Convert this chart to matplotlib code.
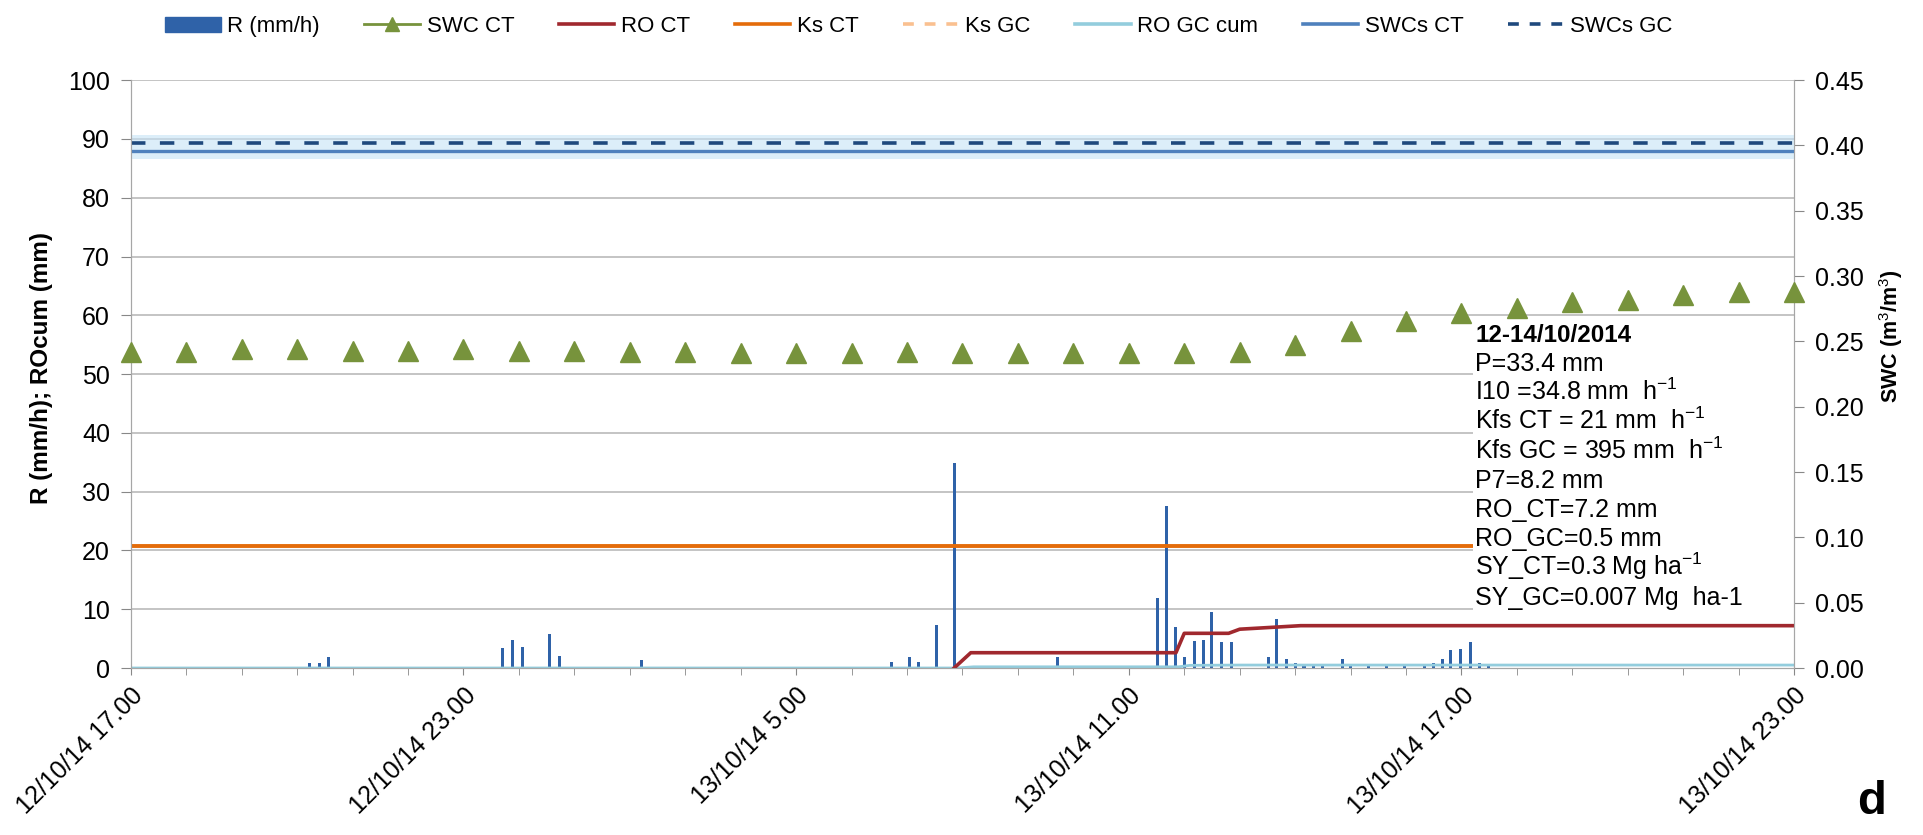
import numpy as np
import matplotlib
matplotlib.use('Agg')
import matplotlib.pyplot as plt
from matplotlib.lines import Line2D
from matplotlib.patches import Patch, Rectangle

plt.rcParams['font.family'] = ['Liberation Sans', 'DejaVu Sans']
plt.rcParams['mathtext.fontset'] = 'custom'
plt.rcParams['mathtext.rm'] = 'Liberation Sans'
plt.rcParams['mathtext.bf'] = 'Liberation Sans:bold'

# hours since 12/10/14 17.00
tick_hours = [0, 6, 12, 18, 24, 30]
tick_labels = ['12/10/14 17.00', '12/10/14 23.00', '13/10/14 5.00',
               '13/10/14 11.00', '13/10/14 17.00', '13/10/14 23.00']

# rainfall intensity (10 min steps), mm/h
rain_t = [3.23, 3.40, 3.57, 6.71, 6.89, 7.07, 7.55, 7.73, 9.21,
          13.72, 14.04, 14.20, 14.53, 14.86, 16.71,
          18.51, 18.68, 18.84, 19.00, 19.18, 19.34, 19.50, 19.67, 19.85,
          20.52, 20.67, 20.84, 21.00, 21.16, 21.33, 21.50, 21.85, 22.00,
          22.33, 22.65, 22.97, 23.33, 23.49, 23.65, 23.81, 23.98, 24.16,
          24.32, 24.48]
rain_v = [0.9, 0.9, 1.9, 3.4, 4.7, 3.5, 5.8, 2.0, 1.3,
          1.0, 1.9, 1.0, 7.3, 34.8, 1.9,
          11.9, 27.5, 7.0, 1.8, 4.6, 4.7, 9.6, 4.5, 4.5,
          1.8, 8.3, 1.6, 0.9, 0.75, 0.75, 0.6, 1.6, 0.75,
          0.75, 0.75, 0.5, 0.75, 0.9, 1.6, 3.1, 3.2, 4.4,
          0.9, 0.75]

# hourly soil water content CT (m3/m3)
swc_t = list(range(31))
swc_ct = [0.2421, 0.2421, 0.2439, 0.2439, 0.2430, 0.2430, 0.2439, 0.2430,
          0.2426, 0.2417, 0.2417, 0.2412, 0.2412, 0.2412, 0.2417, 0.2412,
          0.2412, 0.2412, 0.2412, 0.2412, 0.2417, 0.2475, 0.2579, 0.2660,
          0.2714, 0.2759, 0.2804, 0.2817, 0.2858, 0.2876, 0.2880]

# cumulative runoff (mm)
ro_ct_t = [14.85, 15.15, 18.85, 19.00, 19.80, 20.00, 21.10, 30.0]
ro_ct_v = [0.0, 2.6, 2.6, 5.9, 5.9, 6.6, 7.2, 7.2]
ro_gc_t = [0.0, 14.9, 15.2, 18.9, 19.1, 20.0, 30.0]
ro_gc_v = [0.0, 0.0, 0.2, 0.2, 0.45, 0.5, 0.5]

ks_ct = 20.7
ks_gc = 395.0
swcs_ct = 0.396
swcs_gc = 0.402
swcs_band = (0.390, 0.408)

note_title = '12-14/10/2014'
note_lines = ['P=33.4 mm',
              'I10 =34.8 mm  h$^{-1}$',
              'Kfs CT = 21 mm  h$^{-1}$',
              'Kfs GC = 395 mm  h$^{-1}$',
              'P7=8.2 mm',
              'RO_CT=7.2 mm',
              'RO_GC=0.5 mm',
              'SY_CT=0.3 Mg ha$^{-1}$',
              'SY_GC=0.007 Mg  ha-1']

c_rain = '#2F62A8'
c_swc = '#77933C'
c_ro_ct = '#A0282E'
c_ks_ct = '#E46C0A'
c_ks_gc = '#FAC090'
c_ro_gc = '#93CDDD'
c_swcs_ct = '#4F81BD'
c_swcs_gc = '#1F497D'
grid_c = '#BFBFBF'

fig = plt.figure(figsize=(19.23, 8.35), dpi=100)
ax = fig.add_axes([0.068, 0.20, 0.865, 0.704])
ax2 = ax.twinx()

ax.set_xlim(0, 30)
ax.set_ylim(0, 100)
ax2.set_ylim(0, 0.45)

for y in range(10, 101, 10):
    ax.axhline(y, color=grid_c, lw=1.3, zorder=0.5)

ax.bar(rain_t, rain_v, width=0.055, color=c_rain, zorder=2)
ax.plot([0, 30], [ks_ct, ks_ct], color=c_ks_ct, lw=2.8, zorder=2)
ax.plot([0, 30], [ks_gc, ks_gc], color=c_ks_gc, lw=2.6, ls=(0, (4, 4)), zorder=2)
ax.plot(ro_gc_t, ro_gc_v, color=c_ro_gc, lw=2.0, zorder=2.2)

# white box behind the event summary
ax.add_patch(Rectangle((24.2, 8.6), 5.8, 51.2, facecolor='white',
                       edgecolor='none', zorder=2.5))
ax.plot(ro_ct_t, ro_ct_v, color=c_ro_ct, lw=2.6, zorder=3)

ax2.axhspan(swcs_band[0], swcs_band[1], color='#C5E3F6', alpha=0.6, lw=0, zorder=1)
ax2.plot([0, 30], [swcs_ct, swcs_ct], color=c_swcs_ct, lw=2.4, zorder=2)
ax2.plot([0, 30], [swcs_gc, swcs_gc], color=c_swcs_gc, lw=2.6,
         ls=(0, (4, 4)), zorder=2)
ax2.plot(swc_t, swc_ct, ls='none', marker='^', ms=15, color=c_swc,
         clip_on=False, zorder=4)

# event summary, one text per line
ax.text(24.25, 55.5, note_title, fontsize=17.5, fontweight='bold',
        va='baseline', ha='left', zorder=5)
for i, line in enumerate(note_lines):
    ax.text(24.25, 55.5 - 4.97 * (i + 1), line, fontsize=18, va='baseline',
            ha='left', zorder=5)

ax.set_xticks(range(31), minor=True)
ax.set_xticks(tick_hours)
ax.set_xticklabels(tick_labels, rotation=45, ha='right', rotation_mode='anchor',
                   fontsize=18)
ax.tick_params(axis='x', which='both', length=5, color='#888888', pad=6)
ax.set_yticks(range(0, 101, 10))
ax.tick_params(axis='y', labelsize=18, length=7, color='#888888', pad=8)
ax2.set_yticks(np.arange(0, 0.451, 0.05))
ax2.set_yticklabels(['%.2f' % v for v in np.arange(0, 0.451, 0.05)])
ax2.tick_params(axis='y', labelsize=18, length=7, color='#888888', pad=8)

for a in (ax, ax2):
    for s in a.spines.values():
        s.set_color('#A6A6A6')
    a.spines['top'].set_visible(False)

ax.set_ylabel('R (mm/h); ROcum (mm)', fontsize=17.5, fontweight='bold')
ax.yaxis.set_label_coords(-0.047, 0.51)
ax2.set_ylabel('SWC (m$^3$/m$^3$)', fontsize=15.5, fontweight='bold')
ax2.yaxis.set_label_coords(1.05, 0.565)

handles = [Patch(color=c_rain),
           Line2D([], [], color=c_swc, marker='^', ms=10, lw=2),
           Line2D([], [], color=c_ro_ct, lw=2.6),
           Line2D([], [], color=c_ks_ct, lw=2.6),
           Line2D([], [], color=c_ks_gc, lw=2.6, ls=(0, (3, 3))),
           Line2D([], [], color=c_ro_gc, lw=2.6),
           Line2D([], [], color=c_swcs_ct, lw=2.6),
           Line2D([], [], color=c_swcs_gc, lw=2.6, ls=(0, (3, 3)))]
names = ['R (mm/h)', 'SWC CT', 'RO CT', 'Ks CT', 'Ks GC', 'RO GC cum',
         'SWCs CT', 'SWCs GC']
fig.legend(handles, names, loc='center left', bbox_to_anchor=(0.0755, 0.968),
           ncol=8, frameon=False, fontsize=16, handlelength=2.5,
           handletextpad=0.3, columnspacing=2.0, numpoints=1)

fig.text(0.973, 0.04, 'd', fontsize=34, fontweight='bold', ha='center', va='center')

fig.savefig('out.png', dpi=100)
